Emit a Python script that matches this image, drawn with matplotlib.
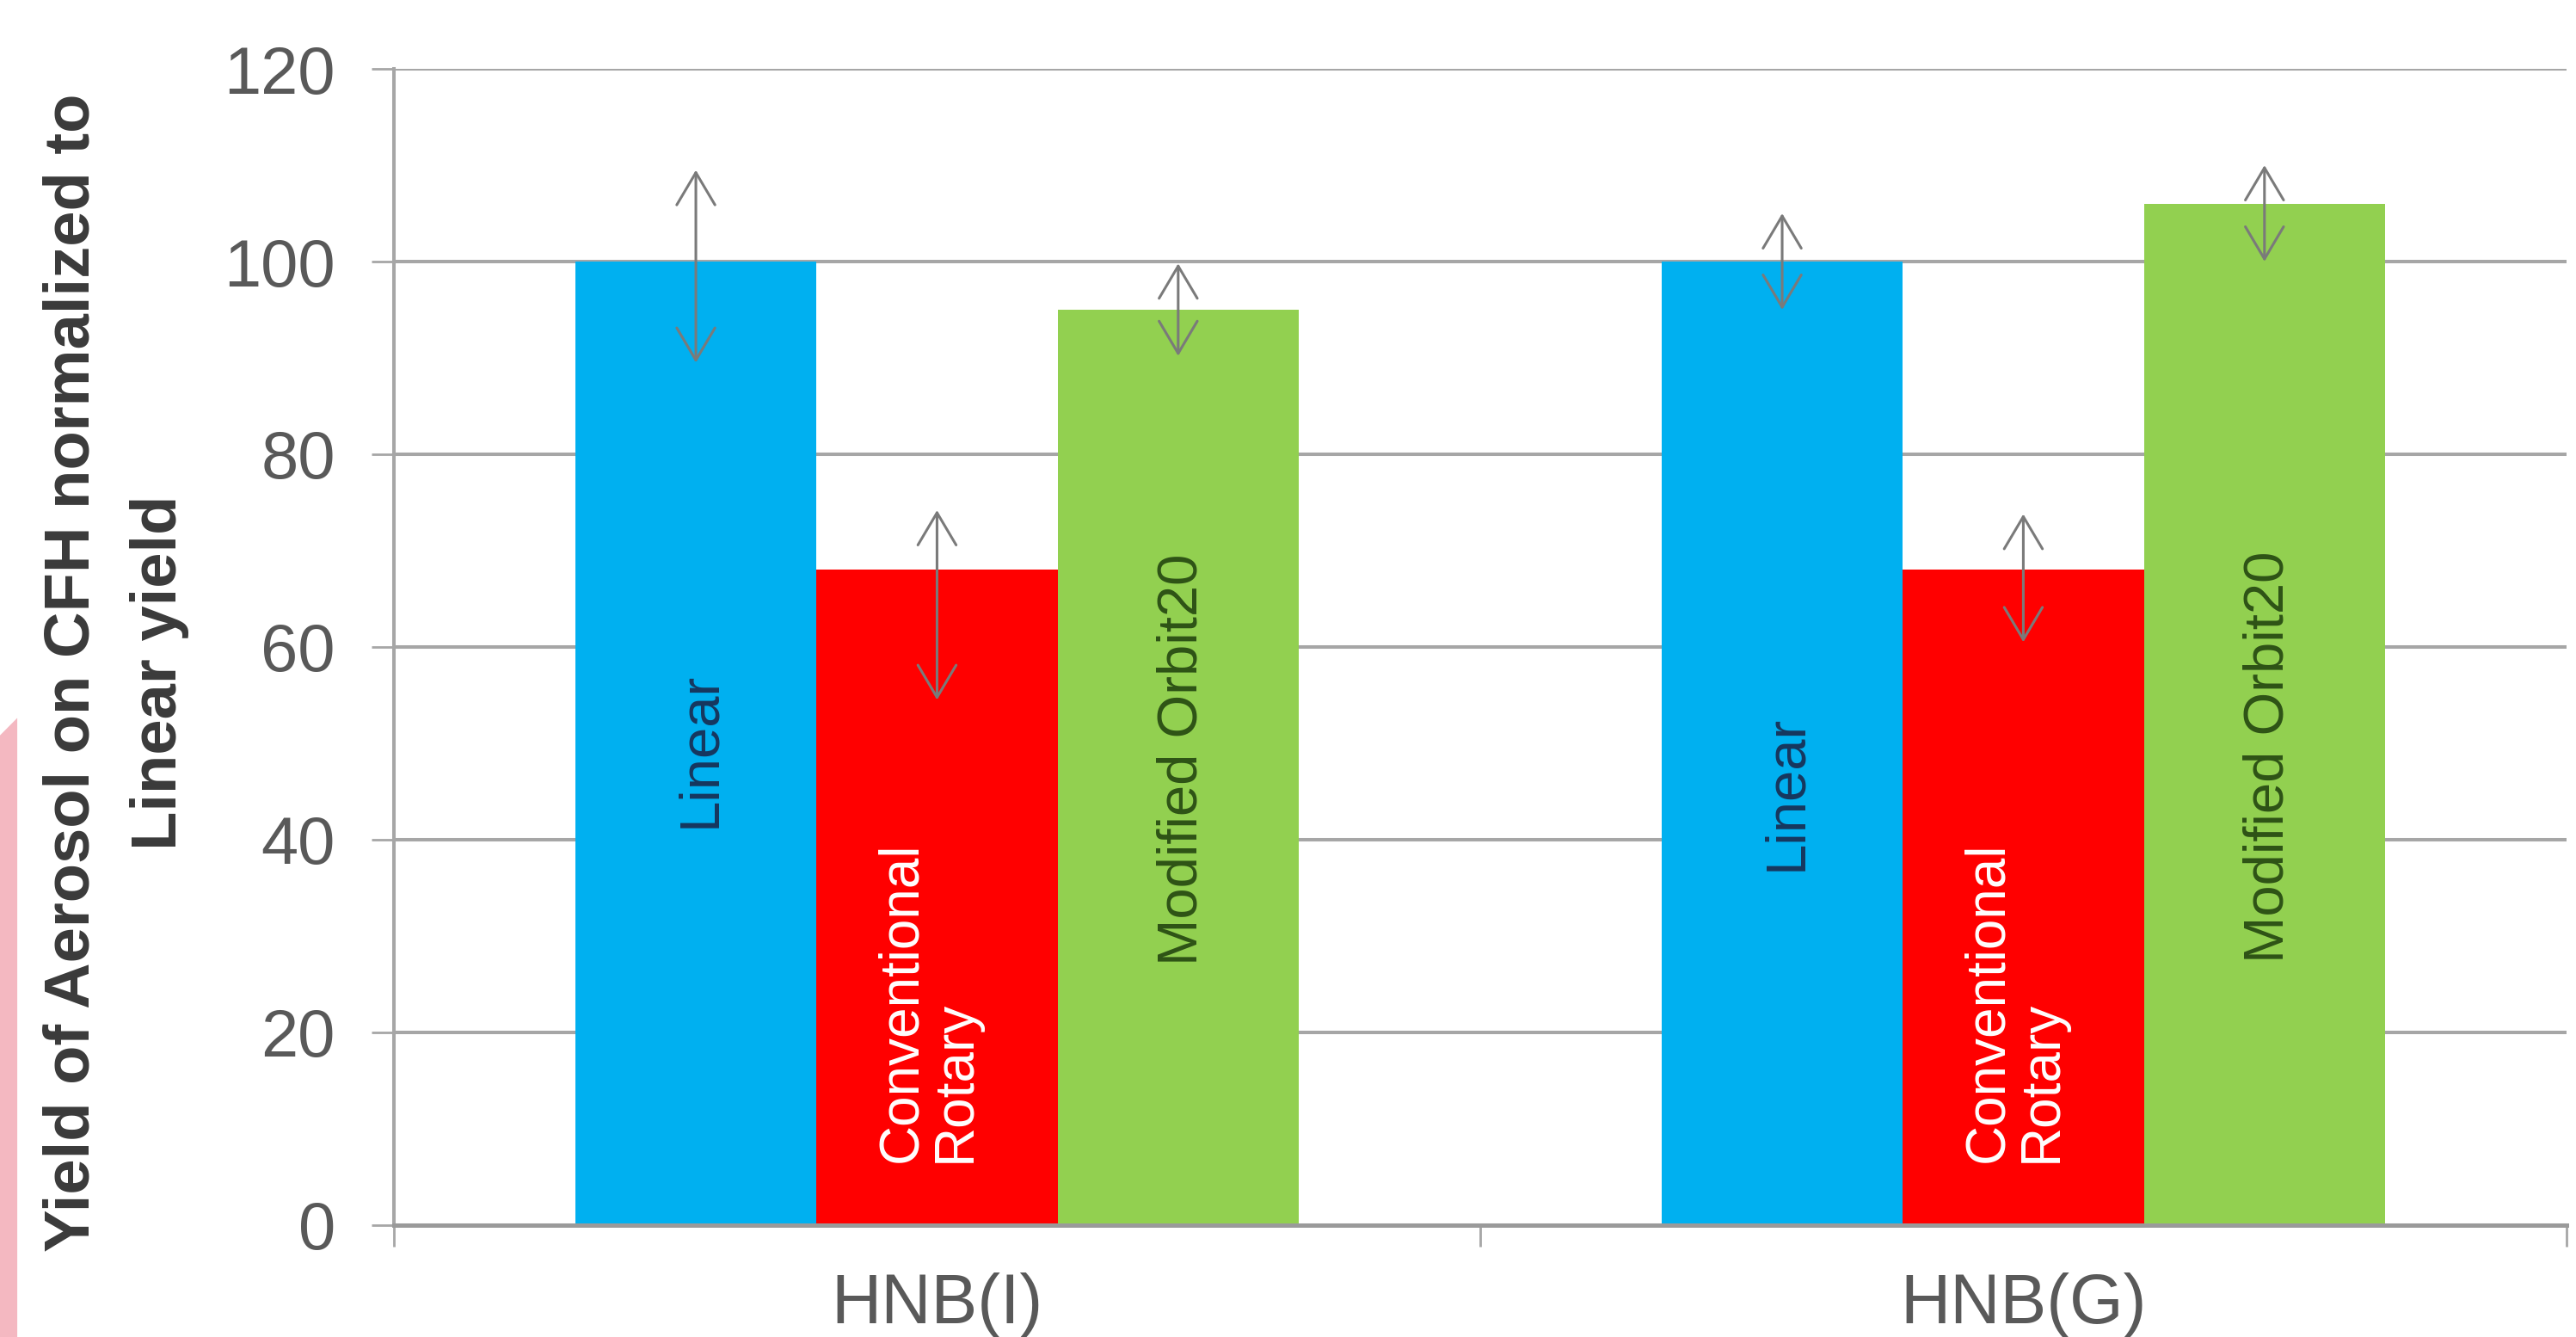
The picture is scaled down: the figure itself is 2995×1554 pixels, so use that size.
import numpy as np
import matplotlib.pyplot as plt
from matplotlib.patches import Polygon

plt.rcParams['font.family'] = ['Liberation Sans', 'DejaVu Sans']

groups = ['HNB(I)', 'HNB(G)']
methods = ['Linear', 'Conventional\nRotary', 'Modified Orbit20']
linear = [100, 100]
rotary = [68, 68]
orbit20 = [95, 106]
# spread drawn as double-headed arrows: (low, high)
linear_range = [(89.5, 109.5), (95, 105)]
rotary_range = [(54.5, 74.2), (60.5, 73.8)]
orbit20_range = [(90.2, 99.8), (100, 110)]
yticks = [0, 20, 40, 60, 80, 100, 120]

colors = ['#00B0F0', '#FF0000', '#92D050']
text_colors = ['#17375E', '#FFFFFF', '#2E5316']
grid_col = '#A6A6A6'
# where each in-bar label sits (y of label centre, rotary labels start at the base)
label_y = [[49.3, 44.9], [6.5, 6.5], [48.3, 48.6]]

fig = plt.figure(figsize=(29.95, 15.54), dpi=100)
ax = fig.add_axes([0.1529, 0.0837, 0.8434, 0.8648])

x = np.arange(len(groups))
w = 0.222
series = [linear, rotary, orbit20]
ranges = [linear_range, rotary_range, orbit20_range]

for i, (vals, rng) in enumerate(zip(series, ranges)):
    pos = x + (i - 1) * w
    ax.bar(pos, vals, width=w, color=colors[i], zorder=2)
    for j, (px, v, (lo, hi)) in enumerate(zip(pos, vals, rng)):
        ax.annotate('', xy=(px, hi), xytext=(px, lo),
                    arrowprops=dict(arrowstyle='<->,head_length=1.35,head_width=0.8',
                                    color='#7A7A7A', lw=2.2, mutation_scale=20,
                                    shrinkA=0, shrinkB=0),
                    zorder=4)
        if i == 1:
            ax.text(px - 0.008, label_y[i][j], methods[i], rotation=90, ha='center',
                    va='bottom', multialignment='left', fontsize=46,
                    color=text_colors[i], linespacing=1.05, zorder=3)
        else:
            ax.text(px + 0.004, label_y[i][j], methods[i], rotation=90, ha='center',
                    va='center', fontsize=47, color=text_colors[i], zorder=3)

ax.set_xlim(-0.5, len(groups) - 0.5)
ax.set_ylim(0, 120)
ax.set_yticks(yticks)
ax.yaxis.grid(True, color=grid_col, lw=2.9, zorder=0)
ax.set_axisbelow(True)

# category labels sit between the boundary ticks
ax.set_xticks(np.arange(len(groups) + 1) - 0.5)
ax.set_xticklabels([])
ax.set_xticks(x, minor=True)
ax.set_xticklabels(groups, minor=True)
ax.tick_params(axis='x', which='major', length=18, width=2, color=grid_col, direction='out')
ax.tick_params(axis='x', which='minor', length=0, pad=40, labelsize=58, labelcolor='#595959')
ax.tick_params(axis='y', length=19, width=2, color=grid_col, pad=30,
               labelsize=56, labelcolor='#595959')

for s in ['top', 'right']:
    ax.spines[s].set_visible(False)
ax.spines['left'].set_color(grid_col)
ax.spines['left'].set_linewidth(2.9)
ax.spines['bottom'].set_color('#9A9A9A')
ax.spines['bottom'].set_linewidth(3.6)

fig.text(0.045, 0.497, 'Yield of Aerosol on CFH normalized to\nLinear yield', rotation=90,
         ha='center', va='center', fontsize=53.5, fontweight='bold', color='#3A3A3A',
         linespacing=1.6)

# pink edge strip at lower left
fig.patches.append(Polygon([(0, 0), (0.0067, 0), (0.0067, 0.463), (0, 0.45)],
                           closed=True, transform=fig.transFigure,
                           facecolor='#F4B8C1', edgecolor='none'))

fig.savefig('out.png', dpi=100)
